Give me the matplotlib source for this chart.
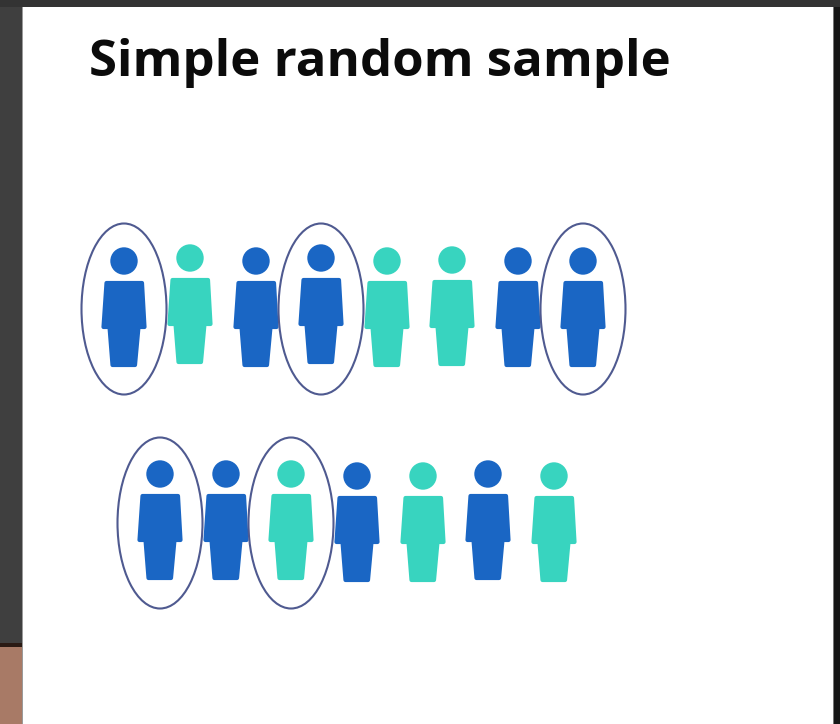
import numpy as np
import matplotlib
matplotlib.use('Agg')
import matplotlib.pyplot as plt
from matplotlib.patches import Circle, Ellipse, Polygon, Rectangle

title = 'Simple random sample'

# head centres of the people, in image pixels
row1_x = [124, 190, 256, 321, 387, 452, 518, 583]
row1_y = [261, 258, 261, 258, 261, 260, 261, 261]
row1_group = ['b', 't', 'b', 'b', 't', 't', 'b', 'b']
row1_picked = [1, 0, 0, 1, 0, 0, 0, 1]
row1_ring_y = 309

row2_x = [160, 226, 291, 357, 423, 488, 554]
row2_y = [474, 474, 474, 476, 476, 474, 476]
row2_group = ['b', 'b', 't', 'b', 't', 'b', 't']
row2_picked = [1, 0, 1, 0, 0, 0, 0]
row2_ring_y = 523

colors = {'b': '#1a66c4', 't': '#38d4bf'}
ring_color = '#4f5a90'

# outline of the body relative to the head centre
body_x = np.array([-17.5, 18, 20.5, 14.5, 11, -11.5, -14.5, -20.5])
body_y = np.array([22, 22, 66, 66, 104, 104, 66, 66])


def drawPerson(ax, x, y, c):
	ax.add_patch(Circle((x, y), 13.7, fc=c, ec='none', zorder=3))
	pts = np.column_stack([x + body_x, y + body_y])
	ax.add_patch(Polygon(pts, closed=True, fc=c, ec=c, lw=3, joinstyle='round', zorder=3))


def drawRow(ax, xs, ys, groups, picked, ring_y):
	for i in range(len(xs)):
		drawPerson(ax, xs[i], ys[i], colors[groups[i]])
		if picked[i]:
			ax.add_patch(Ellipse((xs[i], ring_y), 85, 171, fc='none', ec=ring_color, lw=1.5, zorder=4))


fig = plt.figure(figsize=(8.4, 7.24), dpi=100, facecolor='#161616')
ax = fig.add_axes([0, 0, 1, 1])
ax.set_xlim(0, 840)
ax.set_ylim(724, 0)
ax.axis('off')

# photo frame behind the slide
ax.add_patch(Rectangle((0, 7), 23, 636, fc='#3f3f3f', ec='none'))
ax.add_patch(Rectangle((0, 0), 840, 7, fc='#333333', ec='none'))
ax.add_patch(Rectangle((0, 643), 23, 4, fc='#2a1a14', ec='none'))
ax.add_patch(Rectangle((0, 647), 23, 77, fc='#a87a66', ec='none'))
ax.add_patch(Rectangle((22, 7), 2, 717, fc='#9a9a9a', ec='none'))
ax.add_patch(Rectangle((832, 7), 2, 717, fc='#777777', ec='none'))
ax.add_patch(Rectangle((23, 7), 810, 717, fc='white', ec='none', zorder=1))

drawRow(ax, row1_x, row1_y, row1_group, row1_picked, row1_ring_y)
drawRow(ax, row2_x, row2_y, row2_group, row2_picked, row2_ring_y)

ax.text(89, 76.5, title, fontsize=36.6, fontweight='bold', family='Open Sans', color='#0b0b0b', ha='left', va='baseline', zorder=5)

fig.savefig('out.png', dpi=100, facecolor=fig.get_facecolor())
